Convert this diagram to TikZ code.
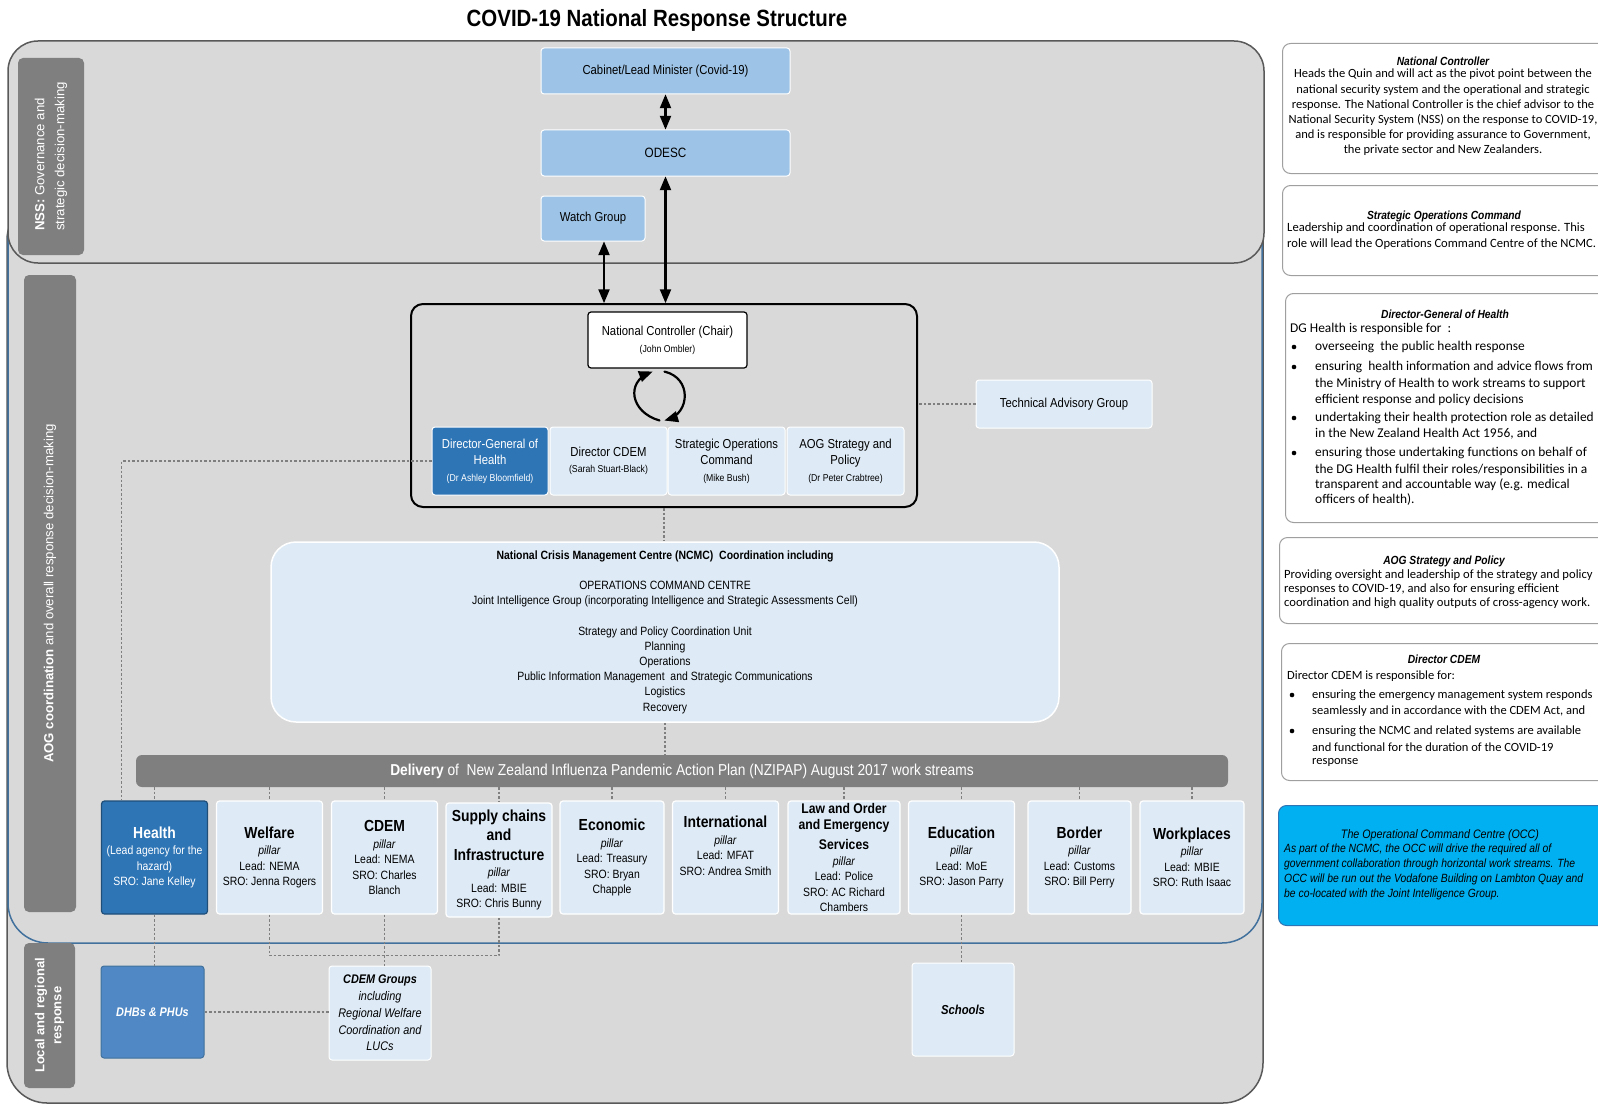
\documentclass[tikz,border=0pt]{standalone}
\usepackage{fontspec}
\setmainfont{Liberation Sans}[FakeStretch=0.87]
\newfontfamily\wideface{Liberation Sans}
\newfontfamily\calface{Carlito}
\usetikzlibrary{arrows}
\definecolor{bggray}{HTML}{D9D9D9}
\definecolor{edgegray}{HTML}{595959}
\definecolor{tabgray}{HTML}{7F7F7F}
\definecolor{aogblue}{HTML}{41719C}
\definecolor{midblue}{HTML}{9DC3E6}
\definecolor{paleblue}{HTML}{DEEBF7}
\definecolor{deepblue}{HTML}{2E75B6}
\definecolor{navyedge}{HTML}{1F4E79}
\definecolor{dhbblue}{HTML}{4F88C4}
\definecolor{occcyan}{HTML}{00B0F0}
\newcommand{\ptitle}[1]{{\bfseries\fontsize{16}{19}\selectfont #1}}
\newcommand{\smalltxt}[1]{{\fontsize{10}{16}\selectfont #1}}

\begin{document}
\begin{tikzpicture}[line cap=round,line join=round,>=triangle 45,x=1pt,y=-1pt,
  sidetab/.style={fill=tabgray,rounded corners=5pt,text=white,rotate=90,inner sep=2pt,font=\wideface\fontsize{13.2}{20}\selectfont},
  govbox/.style={fill=midblue,draw=white,line width=1pt,rounded corners=3pt,font=\fontsize{13}{16}\selectfont},
  palebox/.style={fill=paleblue,draw=white,line width=1pt,rounded corners=3pt,align=center,inner sep=1pt,font=\fontsize{13}{16.5}\selectfont},
  pillar/.style={fill=paleblue,draw=white,line width=1.2pt,rounded corners=3pt,align=center,minimum width=106,minimum height=113,inner sep=1pt,font=\fontsize{12}{15.5}\selectfont},
  dotline/.style={draw=tabgray,line width=1.4pt,dash pattern=on 2.5pt off 2pt,line cap=butt},
  arrowline/.style={line width=2.2pt},
  notebox/.style={fill=white,draw=gray!75,line width=1pt,rounded corners=8pt,anchor=north west},
  ntitle/.style={inner sep=0pt,font=\bfseries\itshape\fontsize{11.8}{14}\selectfont},
  nbody/.style={inner sep=0pt,font=\calface\fontsize{12.5}{15.2}\selectfont},
  nline/.style={inner sep=0pt,anchor=west,font=\calface\fontsize{12.5}{15.2}\selectfont},
  dgline/.style={nline,font=\calface\fontsize{13.4}{16}\selectfont}]
\useasboundingbox (0,0) rectangle (1598,1105);
\clip (0,0) rectangle (1598,1105);

%otsikko
\node[font=\bfseries\fontsize{23.5}{26}\selectfont] (title) at (657,20) {COVID-19 National Response Structure};

%taustalaatikot
\filldraw[fill=bggray,draw=edgegray,line width=1.5pt,rounded corners=40pt] (7,200) rectangle (1263,1103);
\filldraw[fill=bggray,draw=aogblue,line width=1.5pt,rounded corners=40pt] (8,200) rectangle (1262,943);
\filldraw[fill=bggray,draw=edgegray,line width=1.5pt,rounded corners=30pt] (8,41) rectangle (1264,263);

%sivutunnisteet
\node[sidetab,align=left,minimum width=197,minimum height=66] (nsstab) at (51,156.5) {\textbf{NSS:} Governance and\\strategic decision-making};
\node[sidetab,minimum width=637,minimum height=52] (aogtab) at (50,593.5) {\textbf{AOG coordination} and overall response decision-making};
\node[sidetab,align=center,font=\wideface\bfseries\fontsize{13}{17}\selectfont,minimum width=145,minimum height=51] (loctab) at (49.5,1015.5) {Local and regional\\response};

%NSS
\node[govbox,minimum width=249,minimum height=46] (cabinet) at (665.5,71) {Cabinet/Lead Minister (Covid-19)};
\node[govbox,minimum width=249,minimum height=46,font=\fontsize{13.5}{16}\selectfont] (odesc) at (665.5,153) {ODESC};
\node[govbox,minimum width=104,minimum height=45] (watch) at (593,218.5) {Watch Group};

%ydinryhma
\node[draw,line width=2pt,rounded corners=12pt,minimum width=506,minimum height=203] (core) at (664,405.5) {};
\node[draw,fill=white,line width=1.2pt,rounded corners=3pt,minimum width=159,minimum height=56,align=center,font=\fontsize{13}{17}\selectfont] (natctrl) at (667.5,340) {National Controller (Chair)\\\smalltxt{(John Ombler)}};
\node[palebox,fill=deepblue,text=white,minimum width=116,minimum height=68] (dgh) at (490,461) {Director-General of\\Health\\\smalltxt{(Dr Ashley Bloomfield)}};
\node[palebox,minimum width=117,minimum height=68] (dcdem) at (608.5,461) {Director CDEM\\\smalltxt{(Sarah Stuart-Black)}};
\node[palebox,minimum width=117,minimum height=68] (sops) at (726.5,461) {Strategic Operations\\Command\\\smalltxt{(Mike Bush)}};
\node[palebox,minimum width=117,minimum height=68] (aogsp) at (845.5,461) {AOG Strategy and\\Policy\\\smalltxt{(Dr Peter Crabtree)}};
\node[palebox,minimum width=176,minimum height=48] (tag) at (1064,404) {Technical Advisory Group};

%NCMC
\node[palebox,rounded corners=25pt,line width=1.5pt,minimum width=788,minimum height=180,font=\fontsize{12}{15.2}\selectfont] (ncmc) at (665,632) {\textbf{National Crisis Management Centre (NCMC)~ Coordination including}\\[15.2pt]
OPERATIONS COMMAND CENTRE\\
Joint Intelligence Group (incorporating Intelligence and Strategic Assessments Cell)\\[15.2pt]
Strategy and Policy Coordination Unit\\
Planning\\
Operations\\
Public Information Management~ and Strategic Communications\\
Logistics\\
Recovery};

\node[fill=tabgray,rounded corners=6pt,text=white,minimum width=1092,minimum height=32,font=\fontsize{15.8}{18}\selectfont] (bar) at (682,771) {\textbf{Delivery} of~ New Zealand Influenza Pandemic Action Plan (NZIPAP) August 2017 work streams};

%pilarit
\node[pillar,fill=deepblue,draw=navyedge,text=white] (health) at (154.5,857.5) {\ptitle{Health}\\[1pt](Lead agency for the\\hazard)\\SRO: Jane Kelley};
\node[pillar] (welfare) at (269.5,857.5) {\ptitle{Welfare}\\[1pt]\textit{pillar}\\Lead: NEMA\\SRO: Jenna Rogers};
\node[pillar] (cdem) at (384.5,857.5) {\ptitle{CDEM}\\[1pt]\textit{pillar}\\Lead: NEMA\\SRO: Charles\\Blanch};
\node[pillar,minimum height=114] (supply) at (499,860) {\ptitle{Supply chains}\\[4pt]\ptitle{and}\\[4pt]\ptitle{Infrastructure}\\[1pt]\textit{pillar}\\Lead: MBIE\\SRO: Chris Bunny};
\node[pillar,minimum width=104] (econ) at (612,857.5) {\ptitle{Economic}\\[1pt]\textit{pillar}\\Lead: Treasury\\SRO: Bryan\\Chapple};
\node[pillar] (intl) at (725.5,857.5) {\ptitle{International}\\[1pt]\textit{pillar}\\Lead: MFAT\\SRO: Andrea Smith\\[8pt]};
\node[pillar,minimum width=112] (law) at (844,857.5) {{\bfseries\fontsize{14}{16}\selectfont Law and Order}\\[0.5pt]{\bfseries\fontsize{14}{16}\selectfont and Emergency}\\[4pt]{\bfseries\fontsize{14}{16}\selectfont Services}\\[0.5pt]\textit{pillar}\\Lead: Police\\SRO: AC Richard\\Chambers};
\node[pillar] (edu) at (961.5,857.5) {\ptitle{Education}\\[1pt]\textit{pillar}\\Lead: MoE\\SRO: Jason Parry};
\node[pillar,minimum width=103] (border) at (1079.5,857.5) {\ptitle{Border}\\[1pt]\textit{pillar}\\Lead: Customs\\SRO: Bill Perry};
\node[pillar,minimum width=104] (work) at (1192,857.5) {\ptitle{Workplaces}\\[1pt]\textit{pillar}\\Lead: MBIE\\SRO: Ruth Isaac};

%paikallinen taso
\node[fill=dhbblue,draw=aogblue,line width=1pt,rounded corners=3pt,minimum width=103,minimum height=92,text=white,font=\bfseries\itshape\fontsize{12.5}{16}\selectfont] (dhb) at (152.5,1012) {DHBs \& PHUs};
\node[palebox,minimum width=102,minimum height=94,font=\itshape\fontsize{12.5}{16.8}\selectfont] (cdemg) at (380,1013) {\textbf{CDEM Groups}\\including\\Regional Welfare\\Coordination and\\LUCs};
\node[palebox,minimum width=102,minimum height=93,font=\bfseries\itshape\fontsize{13}{16}\selectfont] (school) at (963,1009.5) {Schools};

%nuolet
\draw[arrowline,<->] (cabinet) -- (odesc);
\draw[arrowline,<->] (odesc.south) -- (odesc.south |- core.north);
\draw[arrowline,<->] ([xshift=11pt]watch.south) -- ([xshift=11pt]watch.south |- core.north);
\draw[arrowline,->] ([xshift=-8pt,yshift=6pt]dcdem.north east) .. controls (630,412) and (626,382) .. ([xshift=-15pt,yshift=-3pt]natctrl.south);
\draw[arrowline,->] ([xshift=-3pt,yshift=-3pt]natctrl.south) .. controls (692,378) and (690,413) .. ([xshift=-3pt,yshift=6pt]dcdem.north east);

%katkoviivat
\draw[dotline] (tag.west) -- (tag.west -| core.east);
\draw[dotline] (core.south) -- (core.south |- ncmc.north);
\draw[dotline] (ncmc.south) -- (ncmc.south |- bar.north);
\foreach \p in {health,welfare,cdem,supply,econ,intl,law,edu,border,work}
{
\draw[dotline] (\p.north |- bar.south) -- (\p.north);
}
\draw[dotline] (dgh.west) -| ([xshift=-33pt]health.north);
\draw[dotline] (health.south) -- (health.south |- dhb.north);
\draw[dotline] (welfare.south) -- ++(0,41) -| (supply.south);
\draw[dotline] (cdem.south) -- (cdem.south |- cdemg.north);
\draw[dotline] (dhb.east) -- (dhb.east -| cdemg.west);
\draw[dotline] (edu.south) -- (edu.south |- school.north);

%oikea palsta
\node[notebox,minimum width=360,minimum height=130] (ncnote) at (1282,43) {};
\node[ntitle] (ncnote-h) at (1443,61) {National Controller};
\node[nbody,align=center,anchor=north] (ncnote-b) at (1443,69) {Heads the Quin and will act as the pivot point between the\\
national security system and the operational and strategic\\
response. The National Controller is the chief advisor to the\\
National Security System (NSS) on the response to COVID-19,\\
and is responsible for providing assurance to Government,\\
the private sector and New Zealanders.};

\node[notebox,minimum width=360,minimum height=90] (socnote) at (1282,185) {};
\node[ntitle] (socnote-h) at (1444,216) {Strategic Operations Command};
\node[nbody,align=left,anchor=north west,font=\calface\fontsize{12.6}{15.2}\selectfont] (socnote-b) at (1287,223) {Leadership and coordination of operational response. This\\
role will lead the Operations Command Centre of the NCMC.};

\node[notebox,minimum width=360,minimum height=229] (dgnote) at (1285,293) {};
\node[ntitle] (dgnote-h) at (1445,314) {Director-General of Health};
\node[dgline] (dgnote-i) at (1290,329) {DG Health is responsible for~ :};
\foreach \yy/\words [count=\i] in {347/{overseeing~ the public health response},
  367/{ensuring~ health information and advice flows from},
  384/{the Ministry of Health to work streams to support},
  400/{efficient response and policy decisions},
  418/{undertaking their health protection role as detailed},
  434/{in the New Zealand Health Act 1956, and},
  453/{ensuring those undertaking functions on behalf of},
  470/{the DG Health fulfil their roles/responsibilities in a},
  485/{transparent and accountable way (e.g. medical},
  500/{officers of health).}}
{
\node[dgline] (dgl\i) at (1315,\yy) {\words};
}
\foreach \yy in {347,367,418,453}
\fill (1294,\yy) circle (2.3pt);

\node[notebox,minimum width=360,minimum height=86] (aognote) at (1279,537) {};
\node[ntitle] (aognote-h) at (1444,561) {AOG Strategy and Policy};
\node[nbody,align=left,anchor=north west,font=\calface\fontsize{12.6}{14}\selectfont] (aognote-b) at (1284,570) {Providing oversight and leadership of the strategy and policy\\
responses to COVID-19, and also for ensuring efficient\\
coordination and high quality outputs of cross-agency work.};

\node[notebox,minimum width=360,minimum height=137] (cdnote) at (1281,643) {};
\node[ntitle] (cdnote-h) at (1444,659) {Director CDEM};
\node[nline] (cdnote-i) at (1287,676) {Director CDEM is responsible for:};
\foreach \yy/\words [count=\i] in {695/{ensuring the emergency management system responds},
  711/{seamlessly and in accordance with the CDEM Act, and},
  731/{ensuring the NCMC and related systems are available},
  747/{and functional for the duration of the COVID-19},
  762/{response}}
{
\node[nline] (cdl\i) at (1312,\yy) {\words};
}
\foreach \yy in {695,731}
\fill (1292,\yy) circle (2.3pt);

\node[notebox,fill=occcyan,draw=deepblue,minimum width=360,minimum height=120] (occnote) at (1278,805) {};
\node[ntitle,font=\itshape\fontsize{12.3}{14}\selectfont] (occnote-h) at (1440,835) {The Operational Command Centre (OCC)};
\node[inner sep=0pt,align=left,anchor=north west,font=\itshape\fontsize{11.9}{15}\selectfont] (occnote-b) at (1284,844) {As part of the NCMC, the OCC will drive the required all of\\
government collaboration through horizontal work streams. The\\
OCC will be run out the Vodafone Building on Lambton Quay and\\
be co-located with the Joint Intelligence Group.};
\end{tikzpicture}
\end{document}
